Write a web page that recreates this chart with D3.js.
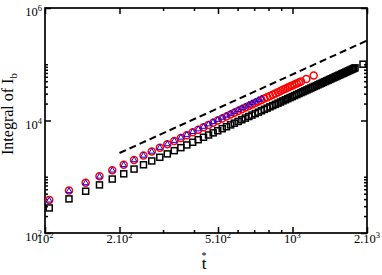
<!DOCTYPE html>
<meta charset="utf-8">
<style>
  body { margin: 0; background: #fff; }
  text { font-family: "Liberation Serif", "DejaVu Serif", serif; }
</style>

<!-- Load d3.js -->
<script src="https://d3js.org/d3.v7.min.js"></script>

<!-- Create a div where the graph will take place -->
<div id="my_dataviz"></div>

<script>

// black squares
var tSquares = [104,125,146,166,187,208,229,250,270,291,312,333,354,374,395,416,437,458,478,499,
  520,541,562,582,603,624,645,666,686,707,728,749,770,790,811,832,853,874,894,915,936,957,978,998,
  1019,1040,1061,1082,1102,1123,1144,1165,1186,1206,1227,1248,1269,1290,1310,1331,1352,1373,1394,
  1414,1435,1456,1477,1498,1518,1539,1560,1581,1602,1622,1643,1664,1685,1706,1726,1747,1768,1789,1927];
var ySquares = [279,404,553,716,910,1127,1369,1633,1907,2218,2551,2910,3291,3676,4103,4555,5030,5529,
  6027,6574,7144,7736,8354,8963,9628,10315,11025,11763,12485,13266,14071,14900,15759,16595,17495,
  18420,19369,20342,21292,22312,23357,24426,25519,26584,27724,28890,30079,31294,32461,33723,35009,
  36319,37655,38935,40318,41725,43158,44598,46009,47513,49024,50578,52156,53664,55290,56942,58596,
  60296,61917,63666,65440,67213,69036,70771,72642,74511,76432,78378,80227,82221,84210,86254,100186];

// red circles
var tCircles = [104,125,146,166,187,208,229,250,270,291,312,333,354,374,395,416,437,458,478,499,
  520,541,562,582,603,624,645,666,686,707,728,749,770,790,811,832,853,874,894,915,936,957,978,998,
  1019,1040,1061,1082,1137,1218];
var yCircles = [388,568,783,1022,1308,1630,1990,2385,2798,3268,3775,4320,4905,5494,6153,6852,7586,
  8359,9133,9988,10876,11808,12773,13733,14779,15866,16991,18151,19307,20548,21826,23156,24519,
  25857,27296,28790,30311,31878,33408,35052,36732,38463,40236,41943,43805,45706,47608,49586,54941,63399];

// blue triangles
var tTriangles = [104,125,146,166,187,208,229,250,270,291,312,333,354,374,395,416,437,458,478,499,
  520,541,562,582,603,624,645,666,686,707,728,749];
var yTriangles = [388,570,788,1031,1324,1654,2024,2433,2862,3353,3884,4458,5077,5703,6405,7153,7935,
  8769,9608,10537,11507,12528,13590,14653,15814,17024,18265,19567,20871,22274,23725,25240];

// dashed reference line (slope 2)
var tLine = [200, 2000];
var yLine = [2640, 264000];

// ticks
var xMajor = [100, 200, 500, 1000, 2000];
var xMajorLabels = [["10","2"], ["2.10","2"], ["5.10","2"], ["10","3"], ["2.10","3"]];
var xMinor = [300, 400, 600, 700, 800, 900];
var yMajor = [100, 10000, 1000000];
var yMajorLabels = [["10","2"], ["10","4"], ["10","6"]];
var yMinor = [200,300,400,500,600,700,800,900,1000,20000,30000,40000,50000,60000,70000,80000,90000,100000];

// set the dimensions and margins of the graph
var margin = {top: 8, right: 15, bottom: 42, left: 45},
    width = 382 - margin.left - margin.right,
    height = 275 - margin.top - margin.bottom;

var svg = d3.select("#my_dataviz")
  .append("svg")
    .attr("width", width + margin.left + margin.right)
    .attr("height", height + margin.top + margin.bottom)
  .append("g")
    .attr("transform", "translate(" + margin.left + "," + margin.top + ")");

var x = d3.scaleLog().domain([100, 2000]).range([0, width]);
var y = d3.scaleLog().domain([100, 1000000]).range([height, 0]);

// ticks on all four sides, pointing inward
function ticks(axisFn, vals, len, transform) {
  var g = svg.append("g")
    .attr("transform", transform)
    .call(axisFn.tickValues(vals).tickSizeInner(-len).tickSizeOuter(0).tickFormat(""));
  g.select(".domain").remove();
  g.selectAll("line").attr("stroke", "#000").attr("stroke-width", 1.5);
}
ticks(d3.axisBottom(x), xMajor, 6, "translate(0," + height + ")");
ticks(d3.axisBottom(x), xMinor, 3, "translate(0," + height + ")");
ticks(d3.axisTop(x), xMajor, 6, "translate(0,0)");
ticks(d3.axisTop(x), xMinor, 3, "translate(0,0)");
ticks(d3.axisLeft(y), yMajor, 6, "translate(0,0)");
ticks(d3.axisLeft(y), yMinor, 3, "translate(0,0)");
ticks(d3.axisRight(y), yMajor, 6, "translate(" + width + ",0)");
ticks(d3.axisRight(y), yMinor, 3, "translate(" + width + ",0)");

// frame
svg.append("rect")
  .attr("x", 0).attr("y", 0)
  .attr("width", width).attr("height", height)
  .attr("fill", "none")
  .attr("stroke", "#000")
  .attr("stroke-width", 1.7);

// tick labels
xMajor.forEach(function(v, i) {
  var t = svg.append("text")
    .attr("x", x(v))
    .attr("y", height + 10)
    .attr("text-anchor", "middle")
    .style("font-size", "12.5px");
  t.append("tspan").text(xMajorLabels[i][0]);
  t.append("tspan").attr("dy", -5).style("font-size", "8.5px").text(xMajorLabels[i][1]);
});
yMajor.forEach(function(v, i) {
  var t = svg.append("text")
    .attr("x", -3)
    .attr("y", y(v) + 8)
    .attr("text-anchor", "end")
    .style("font-size", "12.5px");
  t.append("tspan").text(yMajorLabels[i][0]);
  t.append("tspan").attr("dy", -5).style("font-size", "8.5px").text(yMajorLabels[i][1]);
});

// axis titles
svg.append("text")
  .attr("x", 159)
  .attr("y", 261)
  .attr("text-anchor", "middle")
  .style("font-size", "17px")
  .text("t");
svg.append("text")
  .attr("x", 159)
  .attr("y", 251)
  .attr("text-anchor", "middle")
  .style("font-size", "10px")
  .text("*");

var yt = svg.append("text")
  .attr("transform", "translate(" + (13 - margin.left) + "," + 106 + ") rotate(-90)")
  .attr("text-anchor", "middle")
  .style("font-size", "16px");
yt.append("tspan").text("Integral of I");
yt.append("tspan").attr("dy", 4).style("font-size", "11px").text("b");

// dashed line
svg.append("path")
  .datum(d3.zip(tLine, yLine))
  .attr("fill", "none")
  .attr("stroke", "#000")
  .attr("stroke-width", 2)
  .attr("stroke-dasharray", "7,4")
  .attr("d", d3.line()
    .x(function(d) { return x(d[0]); })
    .y(function(d) { return y(d[1]); }));

// squares
svg.append("g").selectAll("rect")
  .data(d3.zip(tSquares, ySquares))
  .enter().append("rect")
    .attr("x", function(d) { return x(d[0]) - 3; })
    .attr("y", function(d) { return y(d[1]) - 3; })
    .attr("width", 6).attr("height", 6)
    .attr("fill", "none")
    .attr("stroke", "#000")
    .attr("stroke-width", 1.5);

// circles
svg.append("g").selectAll("circle")
  .data(d3.zip(tCircles, yCircles))
  .enter().append("circle")
    .attr("cx", function(d) { return x(d[0]); })
    .attr("cy", function(d) { return y(d[1]); })
    .attr("r", 3.5)
    .attr("fill", "none")
    .attr("stroke", "#f00")
    .attr("stroke-width", 1.5);

// triangles
svg.append("g").selectAll("path")
  .data(d3.zip(tTriangles, yTriangles))
  .enter().append("path")
    .attr("transform", function(d) { return "translate(" + x(d[0]) + "," + (y(d[1]) + 0.5) + ")"; })
    .attr("d", d3.symbol().type(d3.symbolTriangle).size(14))
    .attr("fill", "none")
    .attr("stroke", "#00f")
    .attr("stroke-width", 1);

</script>
